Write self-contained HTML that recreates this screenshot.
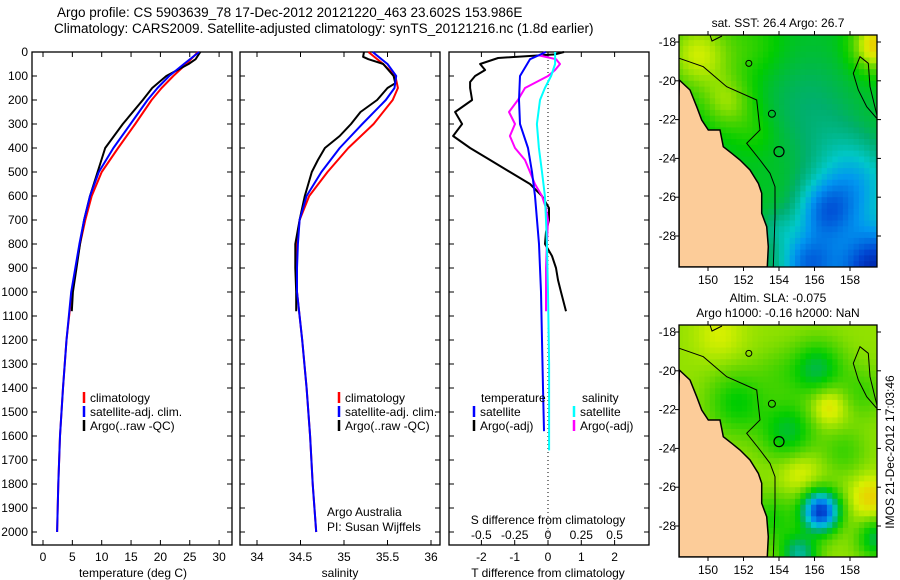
<!DOCTYPE html>
<html><head><meta charset="utf-8"><style>
html,body{margin:0;padding:0;background:#fff;}
svg{display:block;font-family:"Liberation Sans",sans-serif;}
</style></head><body>
<svg id="fig" width="900" height="580" viewBox="0 0 900 580" xmlns="http://www.w3.org/2000/svg">
<text x="57" y="17" font-size="13.5">Argo profile: CS 5903639_78 17-Dec-2012 20121220_463 23.602S 153.986E</text>
<text x="54" y="33" font-size="13.5">Climatology: CARS2009. Satellite-adjusted climatology: synTS_20121216.nc (1.8d earlier)</text>
<defs>
<clipPath id="clip1"><rect x="679" y="35" width="198" height="232"/></clipPath>
<clipPath id="clip2"><rect x="679" y="325" width="198" height="232"/></clipPath>
</defs>
<g id="g"></g>
</svg>
<script>
// ---------- data ----------
const tDepth = [0,50,100,150,200,300,400,500,600,700,800,900,1000,1200,1400,1600,1800,2000];
const tClim  = [26.4,24.4,22.2,20.2,18.5,15.7,12.8,10.0,8.3,7.2,6.3,5.6,4.9,4.0,3.4,2.9,2.6,2.4];
const tSat   = [26.6,24.0,21.5,19.5,17.8,14.9,12.0,9.5,8.0,7.0,6.2,5.5,4.8,4.0,3.4,2.9,2.6,2.4];
const aDepth = [0,30,50,100,150,200,300,400,500,600,700,800,900,1000,1080];
const tArgo  = [26.8,26.0,24.8,21.0,18.6,17.0,13.6,10.6,9.3,8.0,7.0,6.3,5.7,5.1,4.9];
const sClim  = [35.28,35.45,35.59,35.62,35.56,35.34,35.05,34.81,34.6,34.49,34.46,34.45,34.46,34.52,34.57,34.61,34.64,34.68];
const sSat   = [35.33,35.5,35.6,35.58,35.48,35.21,34.95,34.74,34.57,34.49,34.47,34.46,34.46,34.52,34.57,34.61,34.64,34.68];
const sADepth= [0,20,30,50,100,130,150,200,250,300,350,400,450,500,550,600,700,800,900,1000,1080];
const sArgo  = [35.23,35.22,35.28,35.45,35.57,35.59,35.5,35.38,35.19,35.08,34.95,34.78,34.7,34.63,34.59,34.55,34.49,34.44,34.44,34.45,34.45];
const dTaDepth=[0,10,25,50,75,100,125,150,200,250,300,350,400,450,500,550,600,650,700,750,800,850,900,950,1000,1080];
const dTargo = [0.48,0.21,-1.5,-2.04,-1.89,-2.19,-2.34,-2.34,-2.28,-2.79,-2.58,-2.85,-2.34,-1.74,-1.14,-0.54,-0.18,0.03,0.03,-0.06,-0.09,0.12,0.24,0.3,0.39,0.54];
const dTsDepth=[0,30,100,200,300,400,500,600,700,800,900,1000,1200,1400,1580];
const dTsat  = [-0.06,-0.54,-0.84,-0.87,-0.84,-0.6,-0.48,-0.39,-0.33,-0.27,-0.24,-0.21,-0.18,-0.15,-0.12];
const dSsDepth=[0,50,100,150,200,300,400,500,600,700,800,1000,1300,1660];
const dSsat  = [0.053,0.053,0.023,-0.023,-0.06,-0.083,-0.068,-0.045,-0.023,-0.015,-0.008,0,0.008,0.008];
const dSaDepth=[0,15,30,50,75,100,150,200,250,300,350,400,450,500,550,600,650,700,800,900,1000,1080];
const dSargo = [-0.023,-0.06,0.06,0.09,0.053,0,-0.173,-0.226,-0.293,-0.248,-0.286,-0.248,-0.173,-0.135,-0.098,-0.045,-0.015,0,-0.008,-0.015,-0.015,-0.015];
const depthTicks=[0,100,200,300,400,500,600,700,800,900,1000,1100,1200,1300,1400,1500,1600,1700,1800,1900,2000];
const tTicks=[0,5,10,15,20,25,30];
const sTicks=[34,34.5,35,35.5,36];
const sTickLabels=["34","34.5","35","35.5","36"];
const dTTicks=[-2,-1,0,1,2];
const dSTicks=[-0.5,-0.25,0,0.25,0.5];
const dSTickLabels=["-0.5","-0.25","0","0.25","0.5"];
const lonTicks=[150,152,154,156,158];
const latTicks=[-18,-20,-22,-24,-26,-28];
// map fields: [lon, lat, amplitude, radius]
const sstBase=0.57;
const sstBlobs=[[149.3,-18.5,0.22,2.0],[151,-21,0.15,1.4],[159.3,-18,0.3,1.3],[152.5,-18,0.06,1.6],[156.5,-26.6,-0.3,1.6],[159.3,-29.6,-0.5,2.2],[155.5,-29.3,-0.33,1.6],[158.3,-25.2,-0.2,2.0],[155.5,-21,-0.06,2.5],[157,-23.5,-0.06,2.0],[153.8,-27.5,-0.08,1.0],[152.5,-22.5,0.05,1.2]];
const slaBase=0.74;
const slaBlobs=[[156.2,-27.1,-0.62,1.0],[156,-19.8,-0.2,1.4],[154.4,-23,-0.18,1.5],[156.6,-21.6,0.12,1.1],[155,-25,0.08,1.2],[159,-26.4,0.12,1.1],[159.3,-28.5,-0.2,1.0],[155,-29.3,-0.28,1.0],[151.5,-21.5,-0.14,1.6],[153.5,-27.5,-0.12,1.3],[150.5,-18,0.06,1.4],[158.5,-21,-0.08,1.3],[153.8,-20,-0.05,1.3],[157.5,-24,-0.08,1.2]];
const coast=[[58,240],[90,270],[110,320],[125,360],[145,390],[180,390],[190,440],[215,460],[240,480],[270,510],[295,550],[305,580],[305,640],[320,680],[325,740],[322,800]];

// ---------- helpers ----------
const NS="http://www.w3.org/2000/svg";
const G=document.getElementById('g');
function mk(tag,attrs,parent){const e=document.createElementNS(NS,tag);for(const k in attrs)e.setAttribute(k,attrs[k]);(parent||G).appendChild(e);return e;}
const TOP=52,BOT=545,yD=d=>52+d*0.24;
function txt(x,y,s,anchor,size,name){const t=mk('text',{x:x,y:y,'font-size':size||12,'text-anchor':anchor||'start'});t.textContent=s;


return t;}
function panel(x0,x1,name){const r=mk('rect',{x:x0,y:TOP,width:x1-x0,height:BOT-TOP,fill:'none',stroke:'#000','stroke-width':1.3});


depthTicks.forEach(d=>{const y=yD(d);mk('line',{x1:x0,x2:x0+5,y1:y,y2:y,stroke:'#000'});mk('line',{x1:x1-5,x2:x1,y1:y,y2:y,stroke:'#000'});});}
function curve(depths,vals,fx,color,name,w){const p=depths.map((d,i)=>fx(vals[i]).toFixed(1)+','+yD(d).toFixed(1)).join(' ');
const l=mk('polyline',{points:p,fill:'none',stroke:color,'stroke-width':w||2,'stroke-linejoin':'round'});

}
function legend(x,y,color,label,name){mk('line',{x1:x,x2:x,y1:y-10,y2:y+1,stroke:color,'stroke-width':2.5});txt(x+6,y,label,'start',12,name);}

// ---------- panel 1: temperature ----------
const xT=v=>43+v*5.87;
panel(32,232,'temperature-panel');
depthTicks.forEach(d=>txt(28,yD(d)+4,String(d),'end',12,'depth-tick-label'));
tTicks.forEach(v=>{mk('line',{x1:xT(v),x2:xT(v),y1:BOT,y2:BOT-5,stroke:'#000'});mk('line',{x1:xT(v),x2:xT(v),y1:TOP,y2:TOP+5,stroke:'#000'});txt(xT(v),561,String(v),'middle',12,'temperature-tick-label');});
txt(133,577,'temperature (deg C)','middle',12,'temperature-axis-title');
curve(tDepth,tClim,xT,'#ff0000','temp-climatology-line');
curve(aDepth,tArgo,xT,'#000000','temp-argo-line');
curve(tDepth,tSat,xT,'#0000ff','temp-satellite-line');
legend(84,402,'#ff0000','climatology','legend-climatology');
legend(84,416,'#0000ff','satellite-adj. clim.','legend-satellite');
legend(84,430,'#000000','Argo(..raw -QC)','legend-argo');

// ---------- panel 2: salinity ----------
const xS=v=>257+(v-34)*87;
panel(240,440,'salinity-panel');
sTicks.forEach((v,i)=>{mk('line',{x1:xS(v),x2:xS(v),y1:BOT,y2:BOT-5,stroke:'#000'});mk('line',{x1:xS(v),x2:xS(v),y1:TOP,y2:TOP+5,stroke:'#000'});txt(xS(v),561,sTickLabels[i],'middle',12,'salinity-tick-label');});
txt(340,577,'salinity','middle',12,'salinity-axis-title');
curve(tDepth,sClim,xS,'#ff0000','sal-climatology-line');
curve(sADepth,sArgo,xS,'#000000','sal-argo-line');
curve(tDepth,sSat,xS,'#0000ff','sal-satellite-line');
legend(339,402,'#ff0000','climatology','legend-climatology-2');
legend(339,416,'#0000ff','satellite-adj. clim.','legend-satellite-2');
legend(339,430,'#000000','Argo(..raw -QC)','legend-argo-2');
txt(327,516,'Argo Australia','start',12,'credit-line-1');
txt(327,531,'PI: Susan Wijffels','start',12,'credit-line-2');

// ---------- panel 3: differences ----------
const xdT=v=>548+v*33.3, xdS=v=>548+v*133.2;
panel(449,649,'difference-panel');
mk('line',{x1:548,x2:548,y1:TOP,y2:BOT,stroke:'#000','stroke-dasharray':'1,3'});
dTTicks.forEach(v=>{mk('line',{x1:xdT(v),x2:xdT(v),y1:BOT,y2:BOT-5,stroke:'#000'});txt(xdT(v),561,String(v),'middle',12,'tdiff-tick-label');});
dSTicks.forEach((v,i)=>{mk('line',{x1:xdS(v),x2:xdS(v),y1:TOP,y2:TOP+5,stroke:'#000'});txt(xdS(v),539,dSTickLabels[i],'middle',12,'sdiff-tick-label');});
txt(548,524,'S difference from climatology','middle',12,'sdiff-axis-title');
txt(548,577,'T difference from climatology','middle',12,'tdiff-axis-title');
curve(dTaDepth,dTargo,xdT,'#000000','tdiff-argo-line');
curve(dSaDepth,dSargo,xdS,'#ff00ff','sdiff-argo-line');
curve(dTsDepth,dTsat,xdT,'#0000ff','tdiff-satellite-line');
curve(dSsDepth,dSsat,xdS,'#00ffff','sdiff-satellite-line');
txt(481,402,'temperature','start',12,'legend-temperature-heading');
txt(582,402,'salinity','start',12,'legend-salinity-heading');
legend(474,416,'#0000ff','satellite','legend-t-satellite');
legend(474,430,'#000000','Argo(-adj)','legend-t-argo');
legend(574,416,'#00ffff','satellite','legend-s-satellite');
legend(574,430,'#ff00ff','Argo(-adj)','legend-s-argo');

// ---------- maps ----------
const stops=[[0,[0,20,150]],[0.15,[0,70,210]],[0.3,[0,150,240]],[0.4,[0,200,200]],[0.5,[0,175,110]],[0.6,[0,205,0]],[0.7,[100,215,0]],[0.8,[215,240,0]],[0.9,[245,190,0]],[1,[225,70,0]]];
function cmap(v){v=Math.max(0,Math.min(1,v));for(let i=1;i<stops.length;i++){if(v<=stops[i][0]){const a=stops[i-1],b=stops[i],f=(v-a[0])/(b[0]-a[0]);return 'rgb('+a[1].map((c,k)=>Math.round(c+(b[1][k]-c)*f)).join(',')+')';}}return 'rgb(225,70,0)';}
function drawMap(y0,base,blobs,name,titleLines,clip){
  const x0=679,x1=877,y1=y0+232;
  const X=lon=>708+(lon-150)*17.75, Y=lat=>y0+7+(-18-lat)*19.4;
  const g=mk('g',{'clip-path':'url(#'+clip+')'});
  
  
  const step=0.3;
  for(let lon=148.3;lon<159.7;lon+=step){for(let lat=-17.3;lat>-29.9;lat-=step){
    let v=base;blobs.forEach(b=>{const dx=lon-b[0],dy=lat-b[1];v+=b[2]*Math.exp(-(dx*dx+dy*dy)/(b[3]*b[3]));});
    mk('rect',{x:X(lon).toFixed(1),y:Y(lat).toFixed(1),width:(step*17.75+0.6).toFixed(1),height:(step*19.4+0.6).toFixed(1),fill:cmap(v)},g);}}
  const dy=y0-35;
  const pts=coast.map(p=>(660+p[0]/3).toFixed(1)+','+(p[1]/3+dy).toFixed(1));
  const land=mk('polygon',{points:'679,'+(y0+62)+' '+pts.join(' ')+' '+(660+322/3)+','+y1+' 679,'+y1,fill:'#fccc99',stroke:'#000','stroke-width':1.5},g);
  
  
  mk('polyline',{points:[[58,175],[130,200],[200,260],[290,300],[300,390],[260,430],[300,480],[330,520],[345,560],[345,650],[340,800]].map(p=>(660+p[0]/3).toFixed(1)+','+(p[1]/3+dy).toFixed(1)).join(' '),fill:'none',stroke:'#000','stroke-width':1},g);
  mk('polyline',{points:[[650,355],[620,320],[595,270],[580,220],[600,170],[625,190],[630,260],[652,350]].map(p=>(660+p[0]/3).toFixed(1)+','+(p[1]/3+dy).toFixed(1)).join(' '),fill:'none',stroke:'#000','stroke-width':1},g);
  mk('circle',{cx:X(154),cy:Y(-23.65),r:5,fill:'none',stroke:'#000','stroke-width':1.2},g);
  mk('circle',{cx:X(152.3),cy:Y(-19.1),r:3,fill:'none',stroke:'#000'},g);
  mk('circle',{cx:X(153.6),cy:Y(-21.7),r:3.5,fill:'none',stroke:'#000'},g);
  mk('polyline',{points:'710,'+(y0)+' 712,'+(y0+6)+' 722,'+(y0+1),fill:'none',stroke:'#000'},g);
  mk('rect',{x:x0,y:y0,width:x1-x0,height:y1-y0,fill:'none',stroke:'#000','stroke-width':1.3});
  lonTicks.forEach(l=>{mk('line',{x1:X(l),x2:X(l),y1:y0,y2:y0-4,stroke:'#000'});mk('line',{x1:X(l),x2:X(l),y1:y1,y2:y1+4,stroke:'#000'});txt(X(l),y1+17,String(l),'middle',12,'lon-tick-label');});
  latTicks.forEach(l=>{mk('line',{x1:x0,x2:x0-4,y1:Y(l),y2:Y(l),stroke:'#000'});mk('line',{x1:x1,x2:x1+4,y1:Y(l),y2:Y(l),stroke:'#000'});txt(x0-3,Y(l)+4,String(l),'end',12,'lat-tick-label');});
  titleLines.forEach((s,i)=>txt(778,y0-(titleLines.length-1-i)*15-8,s,'middle',12,'map-title'));
}
drawMap(35,sstBase,sstBlobs,'sst-map',['sat. SST: 26.4 Argo: 26.7'],'clip1');
drawMap(325,slaBase,slaBlobs,'sla-map',['Altim. SLA: -0.075','Argo h1000: -0.16 h2000: NaN'],'clip2');
const vt=txt(0,0,'IMOS 21-Dec-2012 17:03:46','middle',12,'timestamp-label');
vt.setAttribute('transform','translate(894,452) rotate(-90)');
</script>
</body></html>
